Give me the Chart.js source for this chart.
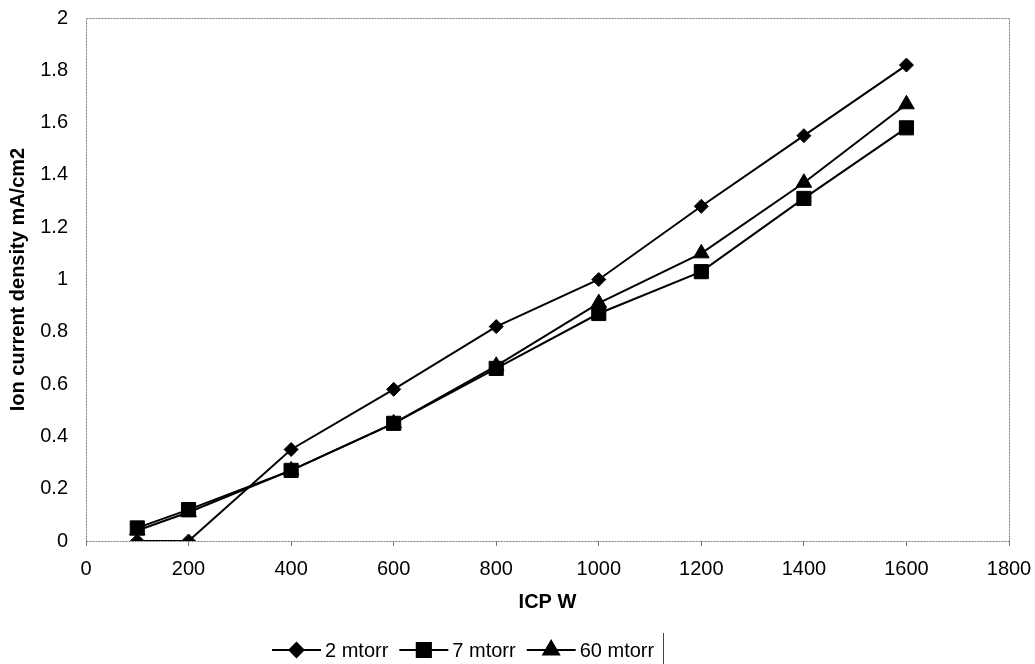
<!DOCTYPE html>
<html>
<head>
<meta charset="utf-8">
<script src="https://cdn.jsdelivr.net/npm/chart.js@4/dist/chart.umd.min.js"></script>
<style>
  html, body { margin: 0; padding: 0; background: #fff; }
  #wrap { width: 1035px; height: 664px; position: relative; }
</style>
</head>
<body>
<div id="wrap"><canvas id="chart"></canvas></div>
<script>
// ICP power vs ion current density, three pressures

const icpPower = [100, 200, 400, 600, 800, 1000, 1200, 1400, 1600];
const mtorr2  = [0, 0, 0.35, 0.58, 0.82, 1.0, 1.28, 1.55, 1.82];
const mtorr7  = [0.05, 0.12, 0.27, 0.45, 0.66, 0.87, 1.03, 1.31, 1.58];
const mtorr60 = [0.04, 0.11, 0.27, 0.45, 0.67, 0.91, 1.10, 1.37, 1.67];
const seriesLabels = ['2 mtorr', '7 mtorr', '60 mtorr'];

const FONT = 'Arial, "Liberation Sans", sans-serif';

const toPoints = (ys) => ys.map((y, i) => ({ x: icpPower[i], y: y }));

// dotted frame round the plot area
const framePlugin = {
  id: 'frame',
  beforeDatasetsDraw(chart) {
    const a = chart.chartArea;
    const ctx = chart.ctx;
    ctx.save();
    ctx.strokeStyle = '#777';
    ctx.lineWidth = 1;
    ctx.setLineDash([2, 1]);
    ctx.strokeRect(Math.round(a.left) + 0.5, Math.round(a.top) + 0.5,
      Math.round(a.right - a.left), Math.round(a.bottom - a.top));
    ctx.restore();
  }
};

// Excel style legend: line with the marker in the middle, then the label
const legendPlugin = {
  id: 'lineLegend',
  afterDraw(chart, args, opts) {
    const ctx = chart.ctx;
    const y = opts.y;
    let x = opts.left;
    ctx.save();
    ctx.font = '20px ' + FONT;
    ctx.textBaseline = 'middle';
    ctx.fillStyle = '#000';
    chart.data.datasets.forEach((ds) => {
      ctx.beginPath();
      ctx.strokeStyle = '#000';
      ctx.lineWidth = 2;
      ctx.moveTo(x, y);
      ctx.lineTo(x + opts.iconWidth, y);
      ctx.stroke();
      Chart.helpers.drawPoint(ctx, {
        pointStyle: ds.pointStyle,
        radius: ds.pointRadius,
        borderWidth: 1
      }, x + opts.iconWidth / 2, y);
      ctx.fill();
      const tx = x + opts.iconWidth + 4;
      ctx.fillText(ds.label, tx, y + 1);
      x = tx + ctx.measureText(ds.label).width + 11;
    });
    // leftover edge of the legend box
    ctx.beginPath();
    ctx.strokeStyle = '#444';
    ctx.lineWidth = 1;
    ctx.moveTo(Math.round(x - 2) + 0.5, y - 17);
    ctx.lineTo(Math.round(x - 2) + 0.5, 664);
    ctx.stroke();
    ctx.restore();
  }
};

const seriesStyle = (label, data, style, radius) => ({
  label: label,
  data: toPoints(data),
  showLine: true,
  borderColor: '#000',
  borderWidth: 2,
  backgroundColor: '#000',
  pointStyle: style,
  pointRadius: radius,
  pointHoverRadius: radius,
  pointBackgroundColor: '#000',
  pointBorderColor: '#000',
  pointBorderWidth: 1,
  tension: 0
});

new Chart(document.getElementById('chart'), {
  type: 'scatter',
  plugins: [framePlugin, legendPlugin],
  data: {
    datasets: [
      seriesStyle(seriesLabels[0], mtorr2, 'rectRot', 7),
      seriesStyle(seriesLabels[1], mtorr7, 'rect', 10),
      seriesStyle(seriesLabels[2], mtorr60, 'triangle', 9)
    ]
  },
  options: {
    responsive: true,
    maintainAspectRatio: false,
    animation: false,
    layout: { padding: { top: 18, right: 26, bottom: 44, left: 0 } },
    plugins: {
      legend: { display: false },
      tooltip: { enabled: false },
      lineLegend: { left: 272, y: 650, iconWidth: 49 }
    },
    scales: {
      x: {
        type: 'linear',
        min: 0,
        max: 1800,
        afterFit: (s) => { s.height = 79; s.paddingLeft = 0; s.paddingRight = 0; },
        grid: { display: true, drawOnChartArea: false, tickLength: 5, color: '#777' },
        border: { display: false },
        ticks: {
          stepSize: 200,
          color: '#000',
          font: { family: FONT, size: 20 },
          padding: 11,
          callback: (v) => String(v)
        },
        title: {
          display: true,
          text: 'ICP W',
          color: '#000',
          font: { family: FONT, size: 20, weight: 'bold' },
          padding: { top: 0, bottom: 6 }
        }
      },
      y: {
        min: 0,
        max: 2,
        afterFit: (s) => { s.width = 86; s.paddingTop = 0; s.paddingBottom = 0; },
        grid: { display: false },
        border: { display: false },
        ticks: {
          stepSize: 0.2,
          color: '#000',
          font: { family: FONT, size: 20 },
          padding: 10,
          callback: (v) => String(Math.round(v * 10) / 10)
        },
        title: {
          display: true,
          text: 'Ion current density mA/cm2',
          color: '#000',
          font: { family: FONT, size: 20, weight: 'bold' },
          padding: { top: 6, bottom: 0 }
        }
      }
    }
  }
});
</script>
</body>
</html>
